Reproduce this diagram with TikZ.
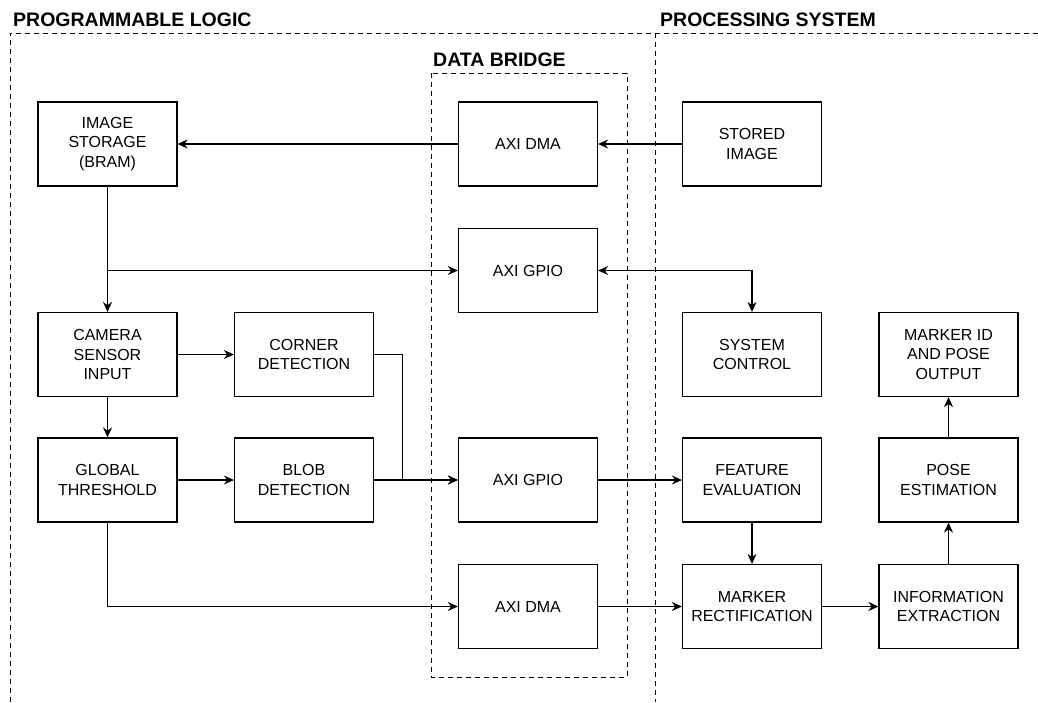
\documentclass[tikz,border=0pt]{standalone}
\usepackage{fontspec}
\setmainfont{Liberation Sans}
\usetikzlibrary{arrows.meta, positioning}
\tikzset{
    % Boxes - plain rectangles
    block/.style={
        rectangle,
        draw=black,
        fill=white,
        line width=1.2pt,
        minimum width=139pt,
        minimum height=84pt,
        inner sep=0pt,
        align=center,
        font=\fontsize{16}{19.5}\selectfont
    },
    title/.style={
        anchor=base west,
        inner sep=0pt,
        font=\fontsize{19.5}{23}\selectfont\bfseries
    },
    region/.style={
        draw=black,
        line width=1pt,
        dash pattern=on 5pt off 4pt
    },
    % Arrow styles
    arrow/.style={
        -{Stealth[length=10pt, width=9pt]},
        line width=1.2pt,
        draw=black
    },
    twoway/.style={
        {Stealth[length=10pt, width=9pt]}-{Stealth[length=10pt, width=9pt]},
        line width=1.2pt,
        draw=black
    }
}
\begin{document}
\begin{tikzpicture}[x=1pt, y=-1pt]
    \useasboundingbox (0,0) rectangle (1038,702);

    % regions
    \draw[region] (10,702) -- (10,33) -- (1038,33);
    \draw[region, line width=0.8pt] (655,33) -- (655,702);
    \draw[region] (431,73) rectangle (627,677);
    \node[title] (pltitle) at (13,26) {PROGRAMMABLE LOGIC};
    \node[title] (pstitle) at (660,26) {PROCESSING SYSTEM};
    \node[title] (bridgetitle) at (433,66) {DATA BRIDGE};

    % programmable logic
    \node[block] (imgstore) at (107.5,144) {IMAGE\\STORAGE\\(BRAM)};
    \node[block] (camera) at (107.5,354.5) {CAMERA\\SENSOR\\INPUT};
    \node[block] (corner) at (304,354.5) {CORNER\\DETECTION};
    \node[block] (thresh) at (107.5,480) {GLOBAL\\THRESHOLD};
    \node[block] (blob) at (304,480) {BLOB\\DETECTION};

    % data bridge
    \node[block] (dmain) at (528,144) {AXI DMA};
    \node[block] (gpioctl) at (528,270.5) {AXI GPIO};
    \node[block] (gpiofeat) at (528,480) {AXI GPIO};
    \node[block] (dmaout) at (528,606.5) {AXI DMA};

    % processing system
    \node[block] (stored) at (752,144) {STORED\\IMAGE};
    \node[block] (sysctl) at (752,354.5) {SYSTEM\\CONTROL};
    \node[block] (feature) at (752,480) {FEATURE\\EVALUATION};
    \node[block] (rectify) at (752,606.5) {MARKER\\RECTIFICATION};
    \node[block] (markerout) at (948.5,354.5) {MARKER ID\\AND POSE\\OUTPUT};
    \node[block] (pose) at (948.5,480) {POSE\\ESTIMATION};
    \node[block] (extract) at (948.5,606.5) {INFORMATION\\EXTRACTION};

    % connectors
    \draw[arrow] (stored) -- (dmain);
    \draw[arrow] (dmain) -- (imgstore);
    \draw[arrow] (imgstore) -- (camera);
    \draw[arrow] (imgstore.south |- gpioctl.west) -- (gpioctl.west);
    \draw[twoway] (gpioctl.east) -| (sysctl.north);
    \draw[arrow] (camera) -- (corner);
    \draw[arrow] (camera) -- (thresh);
    \draw[arrow] (thresh) -- (blob);
    \draw[arrow] (corner.east) -- ++(28,0) |- (gpiofeat.west);
    \draw[arrow] (blob) -- (gpiofeat);
    \draw[arrow] (thresh.south) |- (dmaout.west);
    \draw[arrow] (gpiofeat) -- (feature);
    \draw[arrow] (feature) -- (rectify);
    \draw[arrow] (dmaout) -- (rectify);
    \draw[arrow] (rectify) -- (extract);
    \draw[arrow] (extract) -- (pose);
    \draw[arrow] (pose) -- (markerout);
\end{tikzpicture}
\end{document}
